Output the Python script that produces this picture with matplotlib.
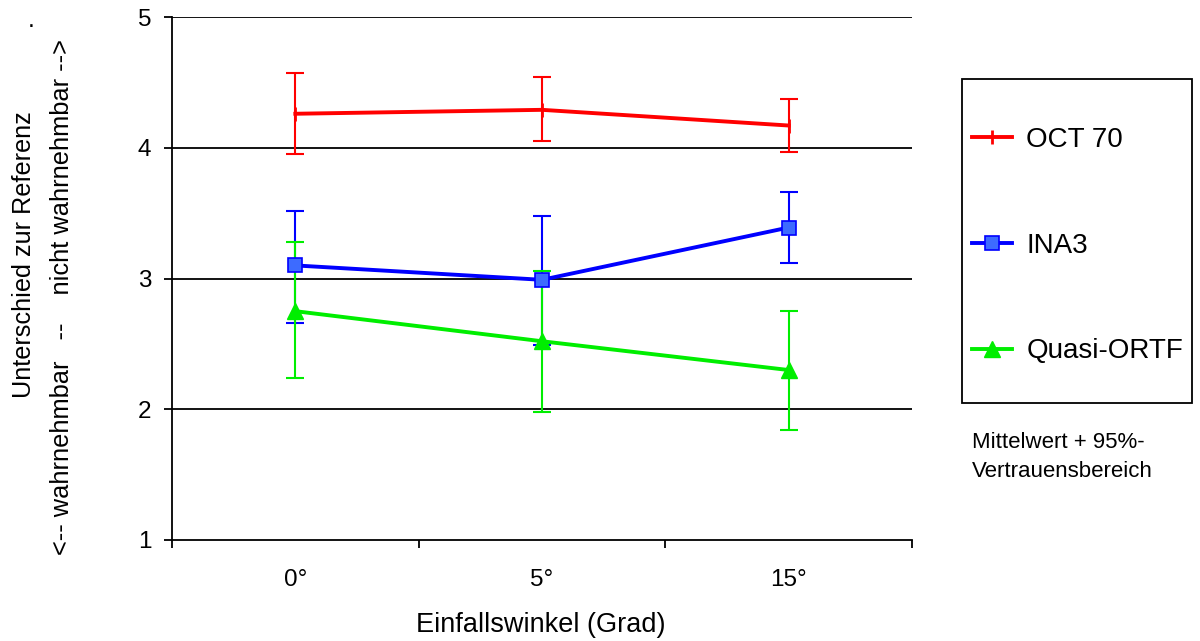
import matplotlib
matplotlib.use("Agg")
import matplotlib.pyplot as plt
from matplotlib.patches import Rectangle
import numpy as np

plt.rcParams['font.family'] = ['Liberation Sans', 'DejaVu Sans']

# Einfallswinkel und Mittelwerte mit 95%-Vertrauensbereich
winkel = ['0°', '5°', '15°']
serien = ['OCT 70', 'INA3', 'Quasi-ORTF']
mittel = {
    'OCT 70': [4.26, 4.29, 4.17],
    'INA3': [3.10, 2.99, 3.39],
    'Quasi-ORTF': [2.75, 2.52, 2.30],
}
unten = {
    'OCT 70': [3.95, 4.05, 3.97],
    'INA3': [2.66, 2.49, 3.12],
    'Quasi-ORTF': [2.24, 1.98, 1.84],
}
oben = {
    'OCT 70': [4.57, 4.54, 4.37],
    'INA3': [3.52, 3.48, 3.66],
    'Quasi-ORTF': [3.28, 3.06, 2.75],
}

stil = {
    'OCT 70': dict(color='#ff0000', marker='|', ms=10, mew=2, mfc='#ff0000', mec='#ff0000'),
    'INA3': dict(color='#0000ff', marker='s', ms=9.5, mew=1.2, mfc='#3d6bff', mec='#0000ff'),
    'Quasi-ORTF': dict(color='#00ee00', marker='^', ms=11, mew=1, mfc='#00ee00', mec='#00ee00'),
}

fig = plt.figure(figsize=(12, 6.41), dpi=100)
ax = fig.add_axes([172/1200, 1-540/641, 740/1200, 523/641])

x = np.arange(len(winkel)) + 0.5
handles = []
for s in serien:
    m = np.array(mittel[s])
    err = [m - np.array(unten[s]), np.array(oben[s]) - m]
    st = stil[s]
    ax.errorbar(x, m, yerr=err, fmt='none', ecolor=st['color'], elinewidth=1.5,
                capsize=6.5, capthick=1.5, zorder=3)
    ln, = ax.plot(x, m, color=st['color'], lw=2.8, marker=st['marker'], ms=st['ms'],
                  mew=st['mew'], mfc=st['mfc'], mec=st['mec'], zorder=4, label=s)
    handles.append(ln)

ax.set_xlim(0, 3)
ax.set_ylim(1, 5)
for v in [2, 3, 4, 5]:
    ax.axhline(v, color='black', lw=1.3, zorder=1)

for sp in ['top', 'right']:
    ax.spines[sp].set_visible(False)
ax.spines['left'].set_linewidth(1.3)
ax.spines['bottom'].set_linewidth(1.3)

ax.set_yticks([1, 2, 3, 4, 5])
ax.tick_params(axis='y', direction='out', length=6, width=1.3, labelsize=17.5, pad=9)
ax.set_xticks([0, 1, 2, 3])
ax.set_xticklabels([])
ax.tick_params(axis='x', which='major', direction='out', length=6, width=1.3)
ax.set_xticks(x, minor=True)
ax.set_xticklabels(winkel, minor=True)
ax.tick_params(axis='x', which='minor', length=0, labelsize=17.5, pad=21)

fig.text(541/1200, 1-625/641, 'Einfallswinkel (Grad)', ha='center', va='center', fontsize=19.5)
fig.text(24/1200, 1-255/641, 'Unterschied zur Referenz', rotation=90,
         ha='center', va='center', fontsize=18.2)
fig.text(31/1200, 1-20/641, '.', ha='center', va='center', fontsize=18)
fig.text(62/1200, 1-297/641, '<-- wahrnehmbar   --    nicht wahrnehmbar -->', rotation=90,
         ha='center', va='center', fontsize=18.3)

# Legendenrahmen
fig.patches.append(Rectangle((962/1200, 1-403/641), 230/1200, 324/641,
                             transform=fig.transFigure, fill=False, ec='black', lw=1.3))
fig.legend(handles=handles, labels=serien, loc='upper left',
           bbox_to_anchor=(972/1200, 1-127/641), frameon=False, borderpad=0,
           borderaxespad=0, handlelength=1.45, handletextpad=0.5, labelspacing=2.87,
           fontsize=20)

fig.text(972/1200, 1-457/641, 'Mittelwert + 95%-\nVertrauensbereich', ha='left', va='center',
         fontsize=16, linespacing=1.5)

fig.savefig('out.png', dpi=100)
